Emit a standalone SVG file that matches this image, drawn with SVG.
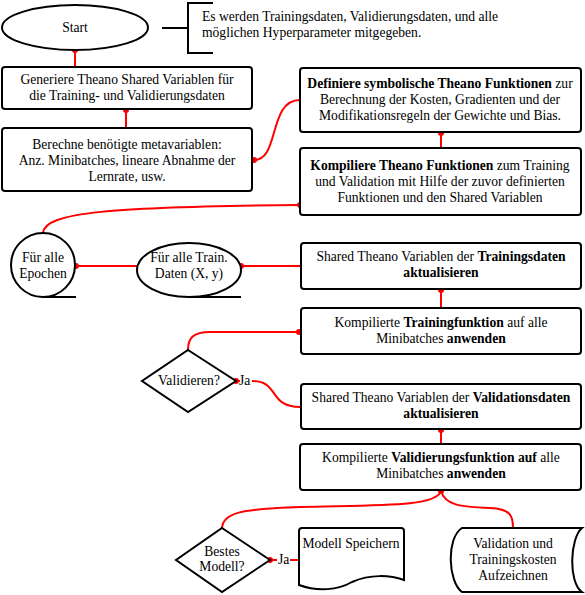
<svg xmlns="http://www.w3.org/2000/svg" width="585" height="595" viewBox="0 0 585 595">
<defs>
<style>
.n{fill:#fff;stroke:#000;stroke-width:2}
.t{font-family:"Liberation Serif","Times New Roman",serif;font-size:13.6px;fill:#000;text-anchor:middle}
.l{text-anchor:start}
.b{font-weight:bold}
.c{fill:none;stroke:#ff0000;stroke-width:2}
.k{fill:none;stroke:#000;stroke-width:2}
</style>
<marker id="dot" viewBox="-4 -4 8 8" markerWidth="8" markerHeight="8" markerUnits="userSpaceOnUse" refX="0" refY="0">
<circle cx="0" cy="0" r="3" fill="#ff0000"/>
</marker>
</defs>
<rect width="585" height="595" fill="#fff"/>

<g id="connectors">
<path class="c" d="M75,50 L75,67" marker-start="url(#dot)"/>
<path class="c" d="M126,110 L126,128" marker-start="url(#dot)"/>
<path class="c" d="M300,100 C268,100 280,160 254,160" marker-end="url(#dot)"/>
<path class="c" d="M441,133 L441,148" marker-start="url(#dot)"/>
<path class="c" d="M300,205 C110,207 45,212 43,233" marker-start="url(#dot)"/>
<path class="c" d="M137,266 L76,266" marker-end="url(#dot)"/>
<path class="c" d="M300,266 L241,266" marker-end="url(#dot)"/>
<path class="c" d="M441,290 L441,308" marker-start="url(#dot)"/>
<path class="c" d="M299,332 L210,332 C193,332 188,338 188,350" marker-start="url(#dot)"/>
<path class="c" d="M240,381 L236,381" marker-end="url(#dot)"/>
<path class="c" d="M252,381 C280,381 268,407 300,407"/>
<path class="c" d="M441,430 L441,444" marker-start="url(#dot)"/>
<path class="c" d="M441,491 C436,507 380,505 300,507 C240,509 223,513 222,528" marker-start="url(#dot)"/>
<path class="c" d="M441,491 C445,505 460,507 490,508 C510,509 513,515 513,528"/>
<path class="c" d="M277,560 L270,560" marker-end="url(#dot)"/>
<path class="c" d="M290,560 L299,560"/>
</g>

<g id="start">
<ellipse class="n" cx="75" cy="27.5" rx="73" ry="22.5"/>
<text class="t" x="75" y="32">Start</text>
</g>

<g id="annotation">
<path class="k" d="M162,28 L188,28 M213,3 L188,3 L188,53 L213,53"/>
<text class="t l" x="202" y="21">Es werden Trainingsdaten, Validierungsdaten, und alle</text>
<text class="t l" x="202" y="37">möglichen Hyperparameter mitgegeben.</text>
</g>

<g id="generiere">
<rect class="n" x="2" y="67" width="250" height="42" rx="3"/>
<text class="t" x="127" y="84">Generiere Theano Shared Variablen für</text>
<text class="t" x="127" y="100">die Training- und Validierungsdaten</text>
</g>

<g id="berechne">
<rect class="n" x="2" y="128" width="250" height="63" rx="3"/>
<text class="t" x="127" y="149">Berechne benötigte metavariablen:</text>
<text class="t" x="127" y="165">Anz. Minibatches, lineare Abnahme der</text>
<text class="t" x="127" y="181">Lernrate, usw.</text>
</g>

<g id="definiere">
<rect class="n" x="300" y="68" width="281" height="64" rx="3"/>
<text class="t" x="440" y="88"><tspan class="b">Definiere symbolische Theano Funktionen</tspan> zur</text>
<text class="t" x="440" y="104">Berechnung der Kosten, Gradienten und der</text>
<text class="t" x="440" y="120">Modifikationsregeln der Gewichte und Bias.</text>
</g>

<g id="kompiliere">
<rect class="n" x="300" y="148" width="281" height="67" rx="3"/>
<text class="t" x="440" y="170"><tspan class="b">Kompiliere Theano Funktionen</tspan> zum Training</text>
<text class="t" x="440" y="186">und Validation mit Hilfe der zuvor definierten</text>
<text class="t" x="440" y="202">Funktionen und den Shared Variablen</text>
</g>

<g id="epochen">
<circle class="n" cx="43" cy="265" r="32"/>
<path class="k" d="M43,297 L76,297"/>
<text class="t" x="43" y="262">Für alle</text>
<text class="t" x="43" y="278">Epochen</text>
</g>

<g id="traindaten">
<ellipse class="n" cx="189" cy="270" rx="52" ry="27"/>
<path class="k" d="M189,297 L241,297"/>
<text class="t" x="189" y="262">Für alle Train.</text>
<text class="t" x="189" y="278">Daten (X, y)</text>
</g>

<g id="shared-training">
<rect class="n" x="301" y="243" width="280" height="46" rx="3"/>
<text class="t" x="441" y="261">Shared Theano Variablen der <tspan class="b">Trainingsdaten</tspan></text>
<text class="t b" x="441" y="277">aktualisieren</text>
</g>

<g id="kompilierte-training">
<rect class="n" x="301" y="308" width="280" height="46" rx="3"/>
<text class="t" x="441" y="327">Kompilierte <tspan class="b">Trainingfunktion</tspan> auf alle</text>
<text class="t" x="441" y="343">Minibatches <tspan class="b">anwenden</tspan></text>
</g>

<g id="validieren">
<polygon class="n" points="188,350 236,381 188,412 142,381"/>
<text class="t" x="189" y="385">Validieren?</text>
<text class="t l" x="239" y="385">Ja</text>
</g>

<g id="shared-validation">
<rect class="n" x="301" y="384" width="280" height="45" rx="3"/>
<text class="t" x="441" y="402">Shared Theano Variablen der <tspan class="b">Validationsdaten</tspan></text>
<text class="t b" x="441" y="418">aktualisieren</text>
</g>

<g id="kompilierte-validierung">
<rect class="n" x="300" y="444" width="281" height="46" rx="3"/>
<text class="t" x="441" y="462">Kompilierte <tspan class="b">Validierungsfunktion auf</tspan> alle</text>
<text class="t" x="441" y="478">Minibatches <tspan class="b">anwenden</tspan></text>
</g>

<g id="bestes-modell">
<polygon class="n" points="222,528 270,560 222,592 176,560"/>
<text class="t" x="222" y="556">Bestes</text>
<text class="t" x="222" y="571">Modell?</text>
<text class="t l" x="278" y="564">Ja</text>
</g>

<g id="modell-speichern">
<path class="n" d="M299,531 Q299,528 302,528 L401,528 Q404,528 404,531 L404,580 C390,575 370,574 352,582 C338,590 318,592 299,585 Z"/>
<text class="t" x="351" y="548">Modell Speichern</text>
</g>

<g id="aufzeichnen">
<path class="n" d="M462,528 L582,528 C570,538 568,582 582,592 L462,592 C448,582 446,538 462,528 Z"/>
<text class="t" x="513" y="548">Validation und</text>
<text class="t" x="513" y="564">Trainingskosten</text>
<text class="t" x="513" y="580">Aufzeichnen</text>
</g>
</svg>
